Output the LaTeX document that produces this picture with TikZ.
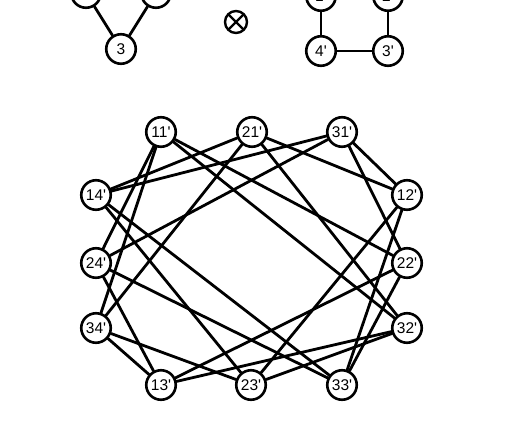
\documentclass[tikz,border=0pt]{standalone}
\usepackage{fontspec}
\setmainfont{Liberation Sans}[Ligatures=TeXOff]
\usetikzlibrary{calc, positioning}

\tikzset{
  vertex/.style={circle,draw,line width=2.6pt,fill=white,minimum size=29.5pt,inner sep=0pt,
    font=\fontsize{15.5}{17}\selectfont},
  link/.style={line width=2.8pt}
}

\begin{document}
\begin{tikzpicture}[x=1pt,y=-1pt,line cap=round,line join=round]
\path[use as bounding box] (0,0) rectangle (527,439);
\clip (0,0) rectangle (527,439);

% factor graphs
\node[vertex] (g1) at (86,-7) {1};
\node[vertex] (g2) at (156,-7) {2};
\node[vertex] (g3) at (121,49) {3};
\node[vertex] (h1) at (321,-4) {1'};
\node[vertex] (h2) at (388,-4) {2'};
\node[vertex] (h3) at (388,51) {3'};
\node[vertex] (h4) at (321,51) {4'};
\draw[link] (g1) -- (g2) (g2) -- (g3) (g3) -- (g1);
\draw[link] (h1) -- (h2) (h2) -- (h3) (h3) -- (h4) (h4) -- (h1);

% tensor sign
\coordinate (T) at (236,22);
\draw[line width=2.4pt] (T) circle (11);
\draw[line width=2.4pt] ($(T)+(45:11)$) -- ($(T)+(225:11)$)
                        ($(T)+(135:11)$) -- ($(T)+(-45:11)$);

% product graph
\coordinate (p11) at (161,132);
\coordinate (p21) at (252,132);
\coordinate (p31) at (342,132);
\coordinate (p12) at (407,195);
\coordinate (p22) at (407,263);
\coordinate (p32) at (407,328);
\coordinate (p13) at (161,385);
\coordinate (p23) at (251,385);
\coordinate (p33) at (342,385);
\coordinate (p14) at (96,195);
\coordinate (p24) at (96,263);
\coordinate (p34) at (96,328);

\foreach \a in {1,2,3}{
  \foreach \b in {1,2,3,4}{
    \node[vertex] (v\a\b) at (p\a\b) {\a\b'};
  }
}
\foreach \a/\c in {1/2,1/3,2/3}{
  \foreach \b/\d in {1/2,2/3,3/4,4/1}{
    \draw[link] (v\a\b) -- (v\c\d);
    \draw[link] (v\a\d) -- (v\c\b);
  }
}
\end{tikzpicture}
\end{document}
